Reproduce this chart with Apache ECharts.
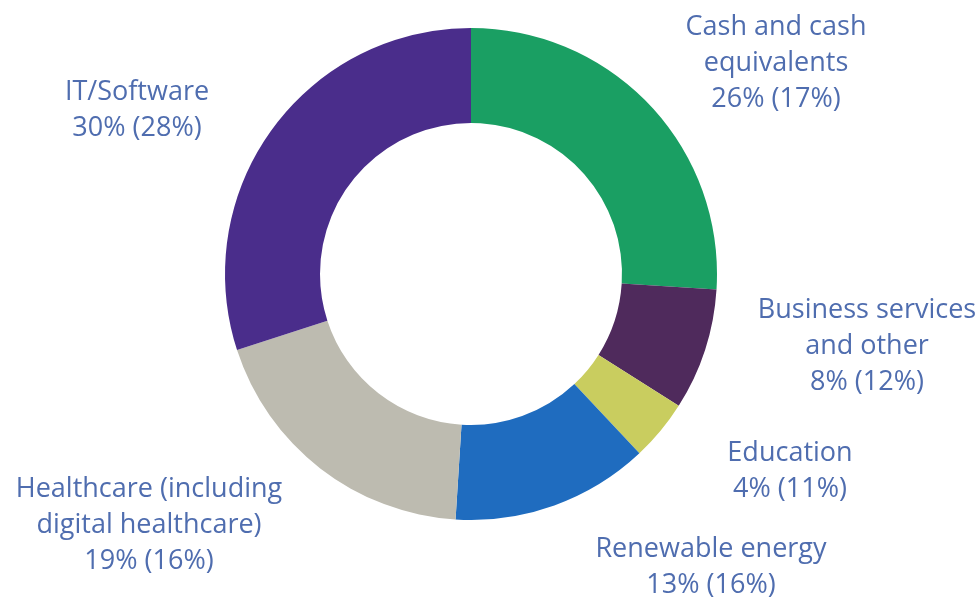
<!DOCTYPE html>
<html><head><meta charset="utf-8">
<script src="https://cdn.jsdelivr.net/npm/echarts@6/dist/echarts.min.js"></script>
<style>html,body{margin:0;padding:0;background:#fff}#c{width:979px;height:603px}</style>
</head><body><div id="c"></div>
<script>
const categories = ['Cash and cash\nequivalents', 'Business services\nand other', 'Education', 'Renewable energy', 'Healthcare (including\ndigital healthcare)', 'IT/Software'];
const currentShare = [26, 8, 4, 13, 19, 30];
const previousShare = [17, 12, 11, 16, 16, 28];
const colors = ['#1a9f63', '#4f2a5c', '#c9cd5f', '#1f6cbf', '#bdbbb0', '#4a2d8b'];
const labelPos = [[776, 63], [867, 346], [790, 471], [711, 567], [149, 525], [137, 110]];

const chart = echarts.init(document.getElementById('c'));
chart.setOption({
  animation: false,
  series: [{
    type: 'pie',
    center: [471, 274],
    radius: [151, 246],
    startAngle: 90,
    clockwise: true,
    data: categories.map((n, i) => ({ name: n, value: currentShare[i], itemStyle: { color: colors[i] } })),
    label: {
      show: true,
      position: 'outside',
      color: '#4f6daf',
      fontFamily: 'Open Sans',
      fontSize: 27,
      lineHeight: 36,
      align: 'center',
      overflow: 'none',
      width: 400,
      formatter: p => p.name + '\n' + currentShare[p.dataIndex] + '% (' + previousShare[p.dataIndex] + '%)'
    },
    labelLine: { show: false },
    labelLayout: p => ({ x: labelPos[p.dataIndex][0], y: labelPos[p.dataIndex][1], align: 'center', verticalAlign: 'middle' }),
    emphasis: { disabled: true }
  }]
});
</script></body></html>
